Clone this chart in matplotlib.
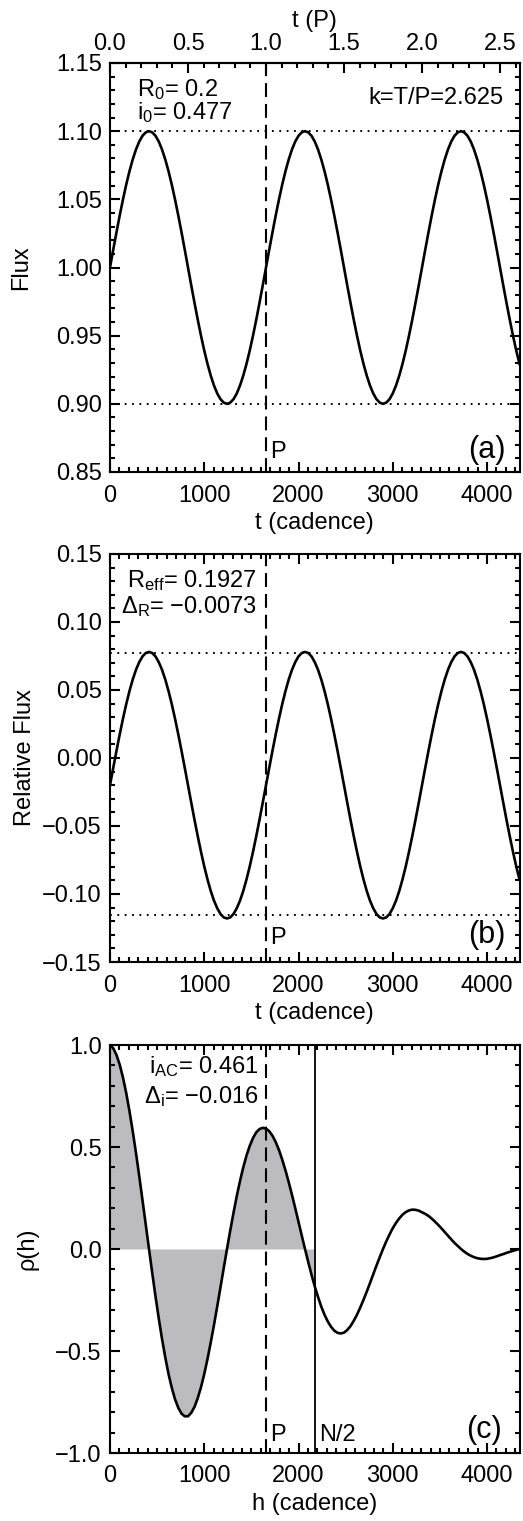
import numpy as np
import matplotlib
matplotlib.use("Agg")
import matplotlib.pyplot as plt
from matplotlib.patches import Rectangle
from matplotlib.ticker import MultipleLocator, FuncFormatter

plt.rcParams['font.family'] = ['Liberation Sans', 'DejaVu Sans']
plt.rcParams['mathtext.fontset'] = 'custom'
plt.rcParams['mathtext.rm'] = 'Liberation Sans'
plt.rcParams['mathtext.it'] = 'Liberation Sans:italic'
plt.rcParams['lines.scale_dashes'] = False

# ---------------- data ----------------
N_CAD = 4344          # length of series (cadence)
PERIOD = 1655         # rotation period (cadence)
HALF_N = N_CAD / 2

t_cad = np.linspace(0, N_CAD, 127)
flux_a = [1.0000, 1.0131, 1.0259, 1.0383, 1.0500, 1.0609, 1.0707, 1.0793, 1.0866, 1.0924, 1.0966, 1.0991, 1.1000,
          1.0991, 1.0966, 1.0924, 1.0866, 1.0793, 1.0707, 1.0609, 1.0500, 1.0383, 1.0259, 1.0131, 1.0000,
          0.9869, 0.9741, 0.9617, 0.9500, 0.9391, 0.9293, 0.9207, 0.9134, 0.9076, 0.9034, 0.9009, 0.9000,
          0.9009, 0.9034, 0.9076, 0.9134, 0.9207, 0.9293, 0.9391, 0.9500, 0.9617, 0.9741, 0.9869,
          1.0000, 1.0131, 1.0259, 1.0383, 1.0500, 1.0609, 1.0707, 1.0793, 1.0866, 1.0924, 1.0966, 1.0991, 1.1000,
          1.0991, 1.0966, 1.0924, 1.0866, 1.0793, 1.0707, 1.0609, 1.0500, 1.0383, 1.0259, 1.0131, 1.0000,
          0.9869, 0.9741, 0.9617, 0.9500, 0.9391, 0.9293, 0.9207, 0.9134, 0.9076, 0.9034, 0.9009, 0.9000,
          0.9009, 0.9034, 0.9076, 0.9134, 0.9207, 0.9293, 0.9391, 0.9500, 0.9617, 0.9741, 0.9869,
          1.0000, 1.0131, 1.0259, 1.0383, 1.0500, 1.0609, 1.0707, 1.0793, 1.0866, 1.0924, 1.0966, 1.0991, 1.1000,
          1.0991, 1.0966, 1.0924, 1.0866, 1.0793, 1.0707, 1.0609, 1.0500, 1.0383, 1.0259, 1.0131, 1.0000,
          0.9869, 0.9741, 0.9617, 0.9500, 0.9391, 0.9293]
flux_levels = [1.10, 0.90]

rel_b = [-0.0200, -0.0072, 0.0054, 0.0175, 0.0290, 0.0397, 0.0493, 0.0578, 0.0649, 0.0705, 0.0747, 0.0772, 0.0780,
         0.0772, 0.0747, 0.0705, 0.0649, 0.0578, 0.0493, 0.0397, 0.0290, 0.0175, 0.0054, -0.0072, -0.0200,
         -0.0328, -0.0454, -0.0575, -0.0690, -0.0797, -0.0893, -0.0978, -0.1049, -0.1105, -0.1147, -0.1172, -0.1180,
         -0.1172, -0.1147, -0.1105, -0.1049, -0.0978, -0.0893, -0.0797, -0.0690, -0.0575, -0.0454, -0.0328,
         -0.0200, -0.0072, 0.0054, 0.0175, 0.0290, 0.0397, 0.0493, 0.0578, 0.0649, 0.0705, 0.0747, 0.0772, 0.0780,
         0.0772, 0.0747, 0.0705, 0.0649, 0.0578, 0.0493, 0.0397, 0.0290, 0.0175, 0.0054, -0.0072, -0.0200,
         -0.0328, -0.0454, -0.0575, -0.0690, -0.0797, -0.0893, -0.0978, -0.1049, -0.1105, -0.1147, -0.1172, -0.1180,
         -0.1172, -0.1147, -0.1105, -0.1049, -0.0978, -0.0893, -0.0797, -0.0690, -0.0575, -0.0454, -0.0328,
         -0.0200, -0.0072, 0.0054, 0.0175, 0.0290, 0.0397, 0.0493, 0.0578, 0.0649, 0.0705, 0.0747, 0.0772, 0.0780,
         0.0772, 0.0747, 0.0705, 0.0649, 0.0578, 0.0493, 0.0397, 0.0290, 0.0175, 0.0054, -0.0072, -0.0200,
         -0.0328, -0.0454, -0.0575, -0.0690, -0.0797, -0.0893]
rel_levels = [0.0775, -0.1152]

h_cad = np.linspace(0, N_CAD, 127)
rho = [1.000, 0.984, 0.951, 0.903, 0.840, 0.764, 0.675, 0.577, 0.470, 0.357, 0.239, 0.120, 0.000,
       -0.118, -0.232, -0.340, -0.440, -0.531, -0.612, -0.680, -0.736, -0.778, -0.807, -0.820, -0.820,
       -0.803, -0.774, -0.731, -0.677, -0.613, -0.539, -0.458, -0.372, -0.281, -0.187, -0.093, 0.000,
       0.091, 0.177, 0.259, 0.333, 0.400, 0.458, 0.506, 0.544, 0.572, 0.588, 0.594, 0.590,
       0.577, 0.555, 0.524, 0.485, 0.438, 0.385, 0.327, 0.265, 0.200, 0.133, 0.066, 0.000,
       -0.064, -0.126, -0.183, -0.235, -0.282, -0.322, -0.355, -0.381, -0.400, -0.411, -0.414, -0.410,
       -0.397, -0.378, -0.352, -0.322, -0.287, -0.249, -0.209, -0.167, -0.124, -0.081, -0.040, 0.000,
       0.037, 0.071, 0.102, 0.128, 0.150, 0.168, 0.181, 0.189, 0.193, 0.192, 0.188, 0.180,
       0.172, 0.162, 0.149, 0.134, 0.118, 0.101, 0.083, 0.065, 0.047, 0.030, 0.015, 0.000,
       -0.013, -0.024, -0.033, -0.040, -0.045, -0.048, -0.049, -0.048, -0.045, -0.041, -0.036, -0.030,
       -0.025, -0.019, -0.014, -0.009, -0.004, 0.000]

x_ticks = [0, 1000, 2000, 3000, 4000]
p_ticks = [0.0, 0.5, 1.0, 1.5, 2.0, 2.5]

# ---------------- figure ----------------
W, H = 523, 1521
fig = plt.figure(figsize=(W / 100, H / 100), dpi=100)

def frac_axes(x0, x1, ytop, ybot):
    return fig.add_axes([x0 / W, 1 - ybot / H, (x1 - x0) / W, (ybot - ytop) / H])

ax_a = frac_axes(110, 519.5, 63, 472)
ax_b = frac_axes(110, 519.5, 554, 962)
ax_c = frac_axes(110, 519.5, 1045, 1453)

FS = 17
LW_AX = 1.5
CURVE_LW = 1.9
DASH = (0, (10, 5))
DOT = (0, (1.3, 4.0))

def fmt(nd):
    return FuncFormatter(lambda v, pos: f'{v:.{nd}f}'.replace('-', '\u2212'))

def style(ax, top=True):
    for s in ax.spines.values():
        s.set_linewidth(LW_AX)
    ax.tick_params(which='both', direction='in', top=top, right=True, width=LW_AX,
                   labelsize=FS)
    ax.tick_params(which='major', length=7.5)
    ax.tick_params(which='minor', length=3.8)
    ax.tick_params(axis='x', which='major', pad=9)
    ax.tick_params(axis='y', which='major', pad=6)
    ax.set_xlim(0, N_CAD)
    ax.set_xticks(x_ticks)
    ax.xaxis.set_minor_locator(MultipleLocator(100))

# ---- panel (a)
ax = ax_a
style(ax, top=False)
ax.plot(t_cad, flux_a, color='black', lw=CURVE_LW)
for lev in flux_levels:
    ax.axhline(lev, color='black', lw=1.4, linestyle=DOT)
ax.axvline(PERIOD, color='black', lw=1.5, linestyle=DASH)
ax.set_ylim(0.85, 1.15)
ax.yaxis.set_major_locator(MultipleLocator(0.05))
ax.yaxis.set_minor_locator(MultipleLocator(0.01))
ax.yaxis.set_major_formatter(fmt(2))
ax.set_xlabel('t (cadence)', fontsize=FS, labelpad=4)
ax.set_ylabel('Flux', fontsize=FS)
ax.yaxis.set_label_coords(-0.19, 0.5)
sec = ax.secondary_xaxis('top', functions=(lambda x: x / PERIOD, lambda p: p * PERIOD))
sec.set_xticks(p_ticks)
sec.xaxis.set_minor_locator(MultipleLocator(0.1))
sec.xaxis.set_major_formatter(fmt(1))
sec.tick_params(which='both', direction='in', width=LW_AX, labelsize=FS)
sec.tick_params(which='major', length=7.5, pad=6)
sec.tick_params(which='minor', length=3.8)
sec.spines['top'].set_linewidth(LW_AX)
sec.set_xlabel('t (P)', fontsize=FS, labelpad=4)
ax.text(0.066, 0.936, r'R$_\mathrm{0}$= 0.2', transform=ax.transAxes, fontsize=FS,
        ha='left', va='center')
ax.text(0.066, 0.878, r'i$_\mathrm{0}$= 0.477', transform=ax.transAxes, fontsize=FS,
        ha='left', va='center')
ax.text(0.96, 0.914, 'k=T/P=2.625', transform=ax.transAxes, fontsize=FS,
        ha='right', va='center')
ax.text(PERIOD + 45, 0.05, 'P', transform=ax.get_xaxis_transform(), fontsize=FS,
        ha='left', va='center')
ax.text(0.965, 0.054, '(a)', transform=ax.transAxes, fontsize=22, ha='right', va='center')

# ---- panel (b)
ax = ax_b
style(ax)
ax.plot(t_cad, rel_b, color='black', lw=CURVE_LW)
for lev in rel_levels:
    ax.axhline(lev, color='black', lw=1.4, linestyle=DOT)
ax.axvline(PERIOD, color='black', lw=1.5, linestyle=DASH)
ax.set_ylim(-0.15, 0.15)
ax.yaxis.set_major_locator(MultipleLocator(0.05))
ax.yaxis.set_minor_locator(MultipleLocator(0.01))
ax.yaxis.set_major_formatter(fmt(2))
ax.set_xlabel('t (cadence)', fontsize=FS, labelpad=4)
ax.set_ylabel('Relative Flux', fontsize=FS)
ax.yaxis.set_label_coords(-0.18, 0.5)
ax.text(0.358, 0.936, r'R$_\mathrm{eff}$= 0.1927', transform=ax.transAxes, fontsize=FS,
        ha='right', va='center')
ax.text(0.358, 0.871, 'Δ' + r'$_\mathrm{R}$= −0.0073', transform=ax.transAxes, fontsize=FS,
        ha='right', va='center')
ax.text(PERIOD + 45, 0.059, 'P', transform=ax.get_xaxis_transform(), fontsize=FS,
        ha='left', va='center')
ax.text(0.965, 0.066, '(b)', transform=ax.transAxes, fontsize=22, ha='right', va='center')

# ---- panel (c)
ax = ax_c
style(ax)
fill = ax.fill_between(h_cad, rho, 0, color='#bcbcc0', lw=0)
clip = Rectangle((0, -2), HALF_N, 4, transform=ax.transData)
fill.set_clip_path(clip)
ax.plot(h_cad, rho, color='black', lw=CURVE_LW)
ax.axvline(PERIOD, color='black', lw=1.5, linestyle=DASH)
ax.axvline(HALF_N, color='black', lw=1.3)
ax.set_ylim(-1.0, 1.0)
ax.yaxis.set_major_locator(MultipleLocator(0.5))
ax.yaxis.set_minor_locator(MultipleLocator(0.1))
ax.yaxis.set_major_formatter(fmt(1))
ax.set_xlabel('h (cadence)', fontsize=FS, labelpad=4)
ax.set_ylabel('ρ(h)', fontsize=FS)
ax.yaxis.set_label_coords(-0.175, 0.5)
ax.text(0.362, 0.946, r'i$_\mathrm{AC}$= 0.461', transform=ax.transAxes, fontsize=FS,
        ha='right', va='center')
ax.text(0.362, 0.873, 'Δ' + r'$_\mathrm{i}$= −0.016', transform=ax.transAxes, fontsize=FS,
        ha='right', va='center')
ax.text(PERIOD + 45, 0.044, 'P', transform=ax.get_xaxis_transform(), fontsize=FS,
        ha='left', va='center')
ax.text(HALF_N + 45, 0.044, 'N/2', transform=ax.get_xaxis_transform(), fontsize=FS,
        ha='left', va='center')
ax.text(0.956, 0.056, '(c)', transform=ax.transAxes, fontsize=22, ha='right', va='center')

fig.savefig('out.png', dpi=100)
